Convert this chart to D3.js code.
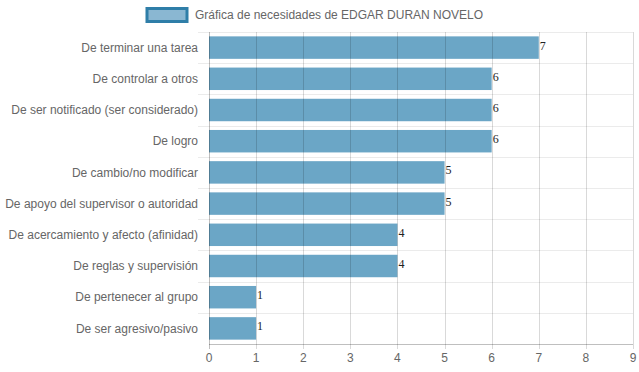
<!DOCTYPE html>
<html>
<head>
<meta charset="utf-8">
<script src="https://cdn.jsdelivr.net/npm/d3@7"></script>
<style>
  body { margin: 0; background: #fff; }
  svg { display: block; font-family: "Liberation Sans", Arial, sans-serif; }
</style>
</head>
<body>
<div id="chart"></div>
<script>
const categories = [
    "De terminar una tarea",
    "De controlar a otros",
    "De ser notificado (ser considerado)",
    "De logro",
    "De cambio/no modificar",
    "De apoyo del supervisor o autoridad",
    "De acercamiento y afecto (afinidad)",
    "De reglas y supervisión",
    "De pertenecer al grupo",
    "De ser agresivo/pasivo"
];
const values = [7, 6, 6, 6, 5, 5, 4, 4, 1, 1];
const xTicks = [0, 1, 2, 3, 4, 5, 6, 7, 8, 9];
const seriesName = "Gráfica de necesidades de EDGAR DURAN NOVELO";

const width = 639;
const height = 372;
const margin = {top: 32, right: 6, bottom: 28, left: 209};

const svg = d3.select("#chart")
    .append("svg")
    .attr("width", width)
    .attr("height", height);

const x = d3.scaleLinear()
    .domain([0, 9])
    .range([margin.left, width - margin.right]);

const y = d3.scaleBand()
    .domain(categories)
    .range([margin.top, height - margin.bottom]);

const barH = y.bandwidth() * 0.72;

// horizontal gridlines (category boundaries)
svg.append("g")
    .selectAll("line")
    .data(categories)
    .join("line")
    .attr("x1", margin.left - 11)
    .attr("x2", width - margin.right)
    .attr("y1", d => Math.round(y(d)) + 0.5)
    .attr("y2", d => Math.round(y(d)) + 0.5)
    .attr("stroke", "#ebebeb")
    .attr("stroke-width", 1);

// bars
svg.append("g")
    .selectAll("rect")
    .data(values)
    .join("rect")
    .attr("x", x(0))
    .attr("y", (d, i) => y(categories[i]) + (y.bandwidth() - barH) / 2)
    .attr("width", d => x(d) - x(0))
    .attr("height", barH)
    .attr("fill", "#6ba6c6");

// vertical gridlines, drawn over bars
svg.append("g")
    .selectAll("line")
    .data(xTicks)
    .join("line")
    .attr("x1", d => Math.round(x(d)) + 0.5)
    .attr("x2", d => Math.round(x(d)) + 0.5)
    .attr("y1", margin.top)
    .attr("y2", height - margin.bottom + 5)
    .attr("stroke", d => d === 0 ? "rgba(0,0,0,0.25)" : "rgba(0,0,0,0.15)")
    .attr("stroke-width", 1);

// bottom axis line
svg.append("line")
    .attr("x1", margin.left)
    .attr("x2", width - margin.right)
    .attr("y1", height - margin.bottom + 0.5)
    .attr("y2", height - margin.bottom + 0.5)
    .attr("stroke", "rgba(0,0,0,0.25)");

// x tick labels
svg.append("g")
    .selectAll("text")
    .data(xTicks)
    .join("text")
    .attr("x", d => x(d))
    .attr("y", height - margin.bottom + 18)
    .attr("text-anchor", "middle")
    .attr("fill", "#666")
    .style("font-size", "12px")
    .text(d => d);

// y category labels
svg.append("g")
    .selectAll("text")
    .data(categories)
    .join("text")
    .attr("x", margin.left - 11)
    .attr("y", d => y(d) + y.bandwidth() / 2)
    .attr("dy", "0.35em")
    .attr("text-anchor", "end")
    .attr("fill", "#666")
    .style("font-size", "12px")
    .text(d => d);

// value labels
svg.append("g")
    .selectAll("text")
    .data(values)
    .join("text")
    .attr("x", d => x(d) + 1)
    .attr("y", (d, i) => y(categories[i]) + y.bandwidth() / 2 + 2)
    .attr("fill", "#222")
    .style("font-family", "'Liberation Serif', serif")
    .style("font-size", "12px")
    .text(d => d);

// legend
const legend = svg.append("g");
legend.append("rect")
    .attr("x", 147)
    .attr("y", 8.5)
    .attr("width", 40)
    .attr("height", 13)
    .attr("fill", "#8ab7d2")
    .attr("stroke", "#2f7ea8")
    .attr("stroke-width", 3);
legend.append("text")
    .attr("x", 195)
    .attr("y", 15)
    .attr("dy", "0.35em")
    .attr("fill", "#666")
    .style("font-size", "12px")
    .text(seriesName);
</script>
</body>
</html>
